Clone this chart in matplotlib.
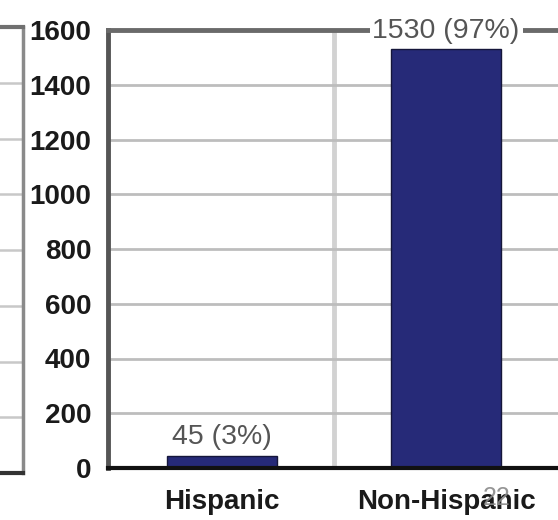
import matplotlib
matplotlib.use("Agg")
import matplotlib.pyplot as plt
from matplotlib.ticker import MultipleLocator

# Ethnicity counts and shares
categories = ["Hispanic", "Non-Hispanic"]
counts = [45, 1530]
shares = [3, 97]
y_ticks = [0, 200, 400, 600, 800, 1000, 1200, 1400, 1600]
page_number = "22"

W, H = 558, 520
fig = plt.figure(figsize=(W / 100, H / 100), dpi=100)
fig.patch.set_facecolor("white")

def px_axes(left, top, right, bottom):
    return fig.add_axes([left / W, 1 - bottom / H, (right - left) / W, (bottom - top) / H])

# Neighbouring panel, only its right edge is in view
ax0 = px_axes(-300, 27, 23, 473)
ax0.set_ylim(0, 1600)
ax0.set_xlim(0, 1)
ax0.yaxis.set_major_locator(MultipleLocator(200))
ax0.grid(axis="y", color="#c8c8c8", linewidth=1.8)
ax0.set_axisbelow(True)
ax0.tick_params(left=False, bottom=False, labelleft=False, labelbottom=False)
ax0.spines["left"].set_visible(False)
for side, col, lw in [("top", "#707070", 3), ("right", "#8a8a8a", 2.5), ("bottom", "#333333", 3)]:
    ax0.spines[side].set_color(col)
    ax0.spines[side].set_linewidth(lw)

# Main bar panel
ax = px_axes(108, 30, 558, 468)
ax.set_ylim(0, 1600)
ax.set_xlim(-0.51, 1.5)
ax.set_yticks(y_ticks)
ax.set_xticks(range(len(categories)))
ax.set_xticklabels(categories)
ax.set_axisbelow(True)
ax.grid(axis="y", color="#bdbdbd", linewidth=2)
ax.axvline(0.5, color="#d2d2d2", linewidth=3.5, zorder=0)

bars = ax.bar(range(len(categories)), counts, width=0.49, color="#262a78",
              edgecolor="#15163a", linewidth=1.0, zorder=2)

for i, (c, s) in enumerate(zip(counts, shares)):
    ax.annotate(f"{c} ({s}%)", xy=(i, c), xytext=(0, 4), textcoords="offset points",
                ha="center", va="bottom", fontsize=20.5, color="#555555",
                family="Liberation Sans", zorder=5, annotation_clip=False,
                bbox=dict(boxstyle="square,pad=0.1", facecolor="white", edgecolor="none"))

for t in ax.get_yticklabels() + ax.get_xticklabels():
    t.set_family("Liberation Sans")
    t.set_fontweight("bold")
    t.set_fontsize(20)
    t.set_color("#1a1a1a")
ax.tick_params(axis="y", length=0, pad=12)
ax.tick_params(axis="x", length=0, pad=15)

ax.spines["right"].set_visible(False)
ax.spines["left"].set_color("#555555")
ax.spines["left"].set_linewidth(3.5)
ax.spines["top"].set_color("#6a6a6a")
ax.spines["top"].set_linewidth(3.5)
ax.spines["bottom"].set_color("#111111")
ax.spines["bottom"].set_linewidth(3)

# Page number printed over the category label
fig.text(497 / W, 1 - 498 / H, page_number, ha="center", va="center",
         fontsize=18, color="#8a8a8a", family="Liberation Sans", alpha=0.9)

fig.savefig("out.png", dpi=100, facecolor="white")
